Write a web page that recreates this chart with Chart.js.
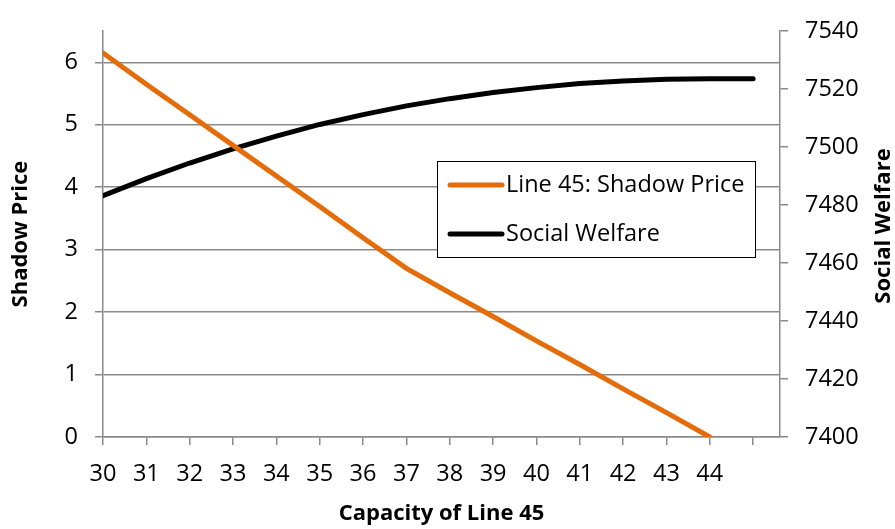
<!DOCTYPE html>
<html>
<head>
<meta charset="utf-8">
<script src="https://cdn.jsdelivr.net/npm/chart.js@4"></script>
<style>
  html, body { margin: 0; padding: 0; background: #fff; }
</style>
</head>
<body>
<canvas id="mc" width="895" height="529"></canvas>
<script>
const capacity = [30, 31, 32, 33, 34, 35, 36, 37, 38, 39, 40, 41, 42, 43, 44, 45];
const shadowPrice = [6.15, 5.65, 5.16, 4.67, 4.18, 3.69, 3.19, 2.70, 2.31, 1.93, 1.54, 1.16, 0.77, 0.39, 0];
const socialWelfare = [7483.2, 7489.1, 7494.5, 7499.4, 7503.8, 7507.8, 7511.2, 7514.2,
                       7516.7, 7518.8, 7520.5, 7521.9, 7522.8, 7523.4, 7523.6, 7523.6];
const seriesNames = ['Line 45: Shadow Price', 'Social Welfare'];
const seriesColors = ['#E46C0A', '#000000'];

const ctx = document.getElementById('mc');
const gridGray = '#8a8a8a';
const font = 'Open Sans';
const tickSize = 23.5;
const titleSize = 22;

function pts(ys) {
    return ys.map((y, i) => ({ x: capacity[i], y: y }));
}

// legend box drawn inside the plot, Excel style
const boxLegend = {
    id: 'boxLegend',
    afterDraw(chart) {
        const c = chart.ctx;
        const x0 = 437, y0 = 161, w = 318, h = 96;
        c.save();
        c.fillStyle = '#fff';
        c.fillRect(x0, y0, w, h);
        c.strokeStyle = '#000';
        c.lineWidth = 1;
        c.strokeRect(x0 + 0.5, y0 + 0.5, w, h);
        c.font = tickSize + 'px "' + font + '"';
        c.textBaseline = 'middle';
        chart.data.datasets.forEach((ds, i) => {
            const y = y0 + 24 + i * 49;
            c.strokeStyle = ds.borderColor;
            c.lineWidth = 5;
            c.lineCap = 'round';
            c.beginPath();
            c.moveTo(450, y);
            c.lineTo(502, y);
            c.stroke();
            c.fillStyle = '#000';
            c.fillText(ds.label, 506, y);
        });
        c.restore();
    }
};

// right axis title reads bottom-to-top like the left one
const rightTitle = {
    id: 'rightTitle',
    afterDraw(chart) {
        const c = chart.ctx;
        c.save();
        c.translate(884, 226);
        c.rotate(-Math.PI / 2);
        c.font = 'bold ' + titleSize + 'px "' + font + '"';
        c.fillStyle = '#000';
        c.textAlign = 'center';
        c.textBaseline = 'middle';
        c.fillText('Social Welfare', 0, 0);
        c.restore();
    }
};

new Chart(ctx, {
    type: 'line',
    data: {
        datasets: [{
            label: seriesNames[0],
            data: pts(shadowPrice),
            yAxisID: 'y',
            borderColor: seriesColors[0],
            backgroundColor: seriesColors[0],
            borderWidth: 5,
            borderCapStyle: 'round',
            pointRadius: 0,
            tension: 0
        }, {
            label: seriesNames[1],
            data: pts(socialWelfare),
            yAxisID: 'y1',
            borderColor: seriesColors[1],
            backgroundColor: seriesColors[1],
            borderWidth: 5,
            borderCapStyle: 'round',
            pointRadius: 0,
            tension: 0
        }]
    },
    options: {
        responsive: false,
        animation: false,
        devicePixelRatio: 1,
        layout: { padding: { top: 15, left: 0, right: 0, bottom: 0 } },
        plugins: {
            legend: { display: false },
            tooltip: { enabled: false }
        },
        scales: {
            x: {
                type: 'linear',
                position: 'bottom',
                min: 30,
                max: 45.62,
                afterFit: s => { s.height = 92; },
                ticks: {
                    stepSize: 1,
                    includeBounds: false,
                    autoSkip: false,
                    maxRotation: 0,
                    padding: 15,
                    color: '#000',
                    font: { family: font, size: tickSize },
                    callback: v => (v === 45 ? '' : String(v))
                },
                grid: { drawOnChartArea: false, tickLength: 8, color: gridGray, lineWidth: 1.5 },
                border: { color: gridGray, width: 1.5 },
                title: {
                    display: true,
                    text: 'Capacity of Line 45',
                    color: '#000',
                    font: { family: font, size: titleSize, weight: 'bold' },
                    padding: { top: 0, bottom: 2 }
                }
            },
            y: {
                position: 'left',
                min: 0,
                max: 6.5,
                afterFit: s => { s.width = 103; },
                ticks: {
                    stepSize: 1,
                    includeBounds: false,
                    padding: 17,
                    color: '#000',
                    font: { family: font, size: tickSize }
                },
                grid: { tickLength: 8, color: gridGray, lineWidth: 1.5 },
                border: { color: gridGray, width: 1.5 },
                title: {
                    display: true,
                    text: 'Shadow Price',
                    color: '#000',
                    font: { family: font, size: titleSize, weight: 'bold' },
                    padding: { top: 8, bottom: 4 }
                }
            },
            y1: {
                position: 'right',
                min: 7400,
                max: 7540,
                afterFit: s => { s.width = 115; },
                ticks: {
                    stepSize: 20,
                    padding: 17,
                    color: '#000',
                    font: { family: font, size: tickSize },
                    callback: v => String(v)
                },
                grid: { drawOnChartArea: false, tickLength: 8, color: gridGray, lineWidth: 1.5 },
                border: { color: gridGray, width: 1.5 }
            }
        }
    },
    plugins: [boxLegend, rightTitle]
});
</script>
</body>
</html>
